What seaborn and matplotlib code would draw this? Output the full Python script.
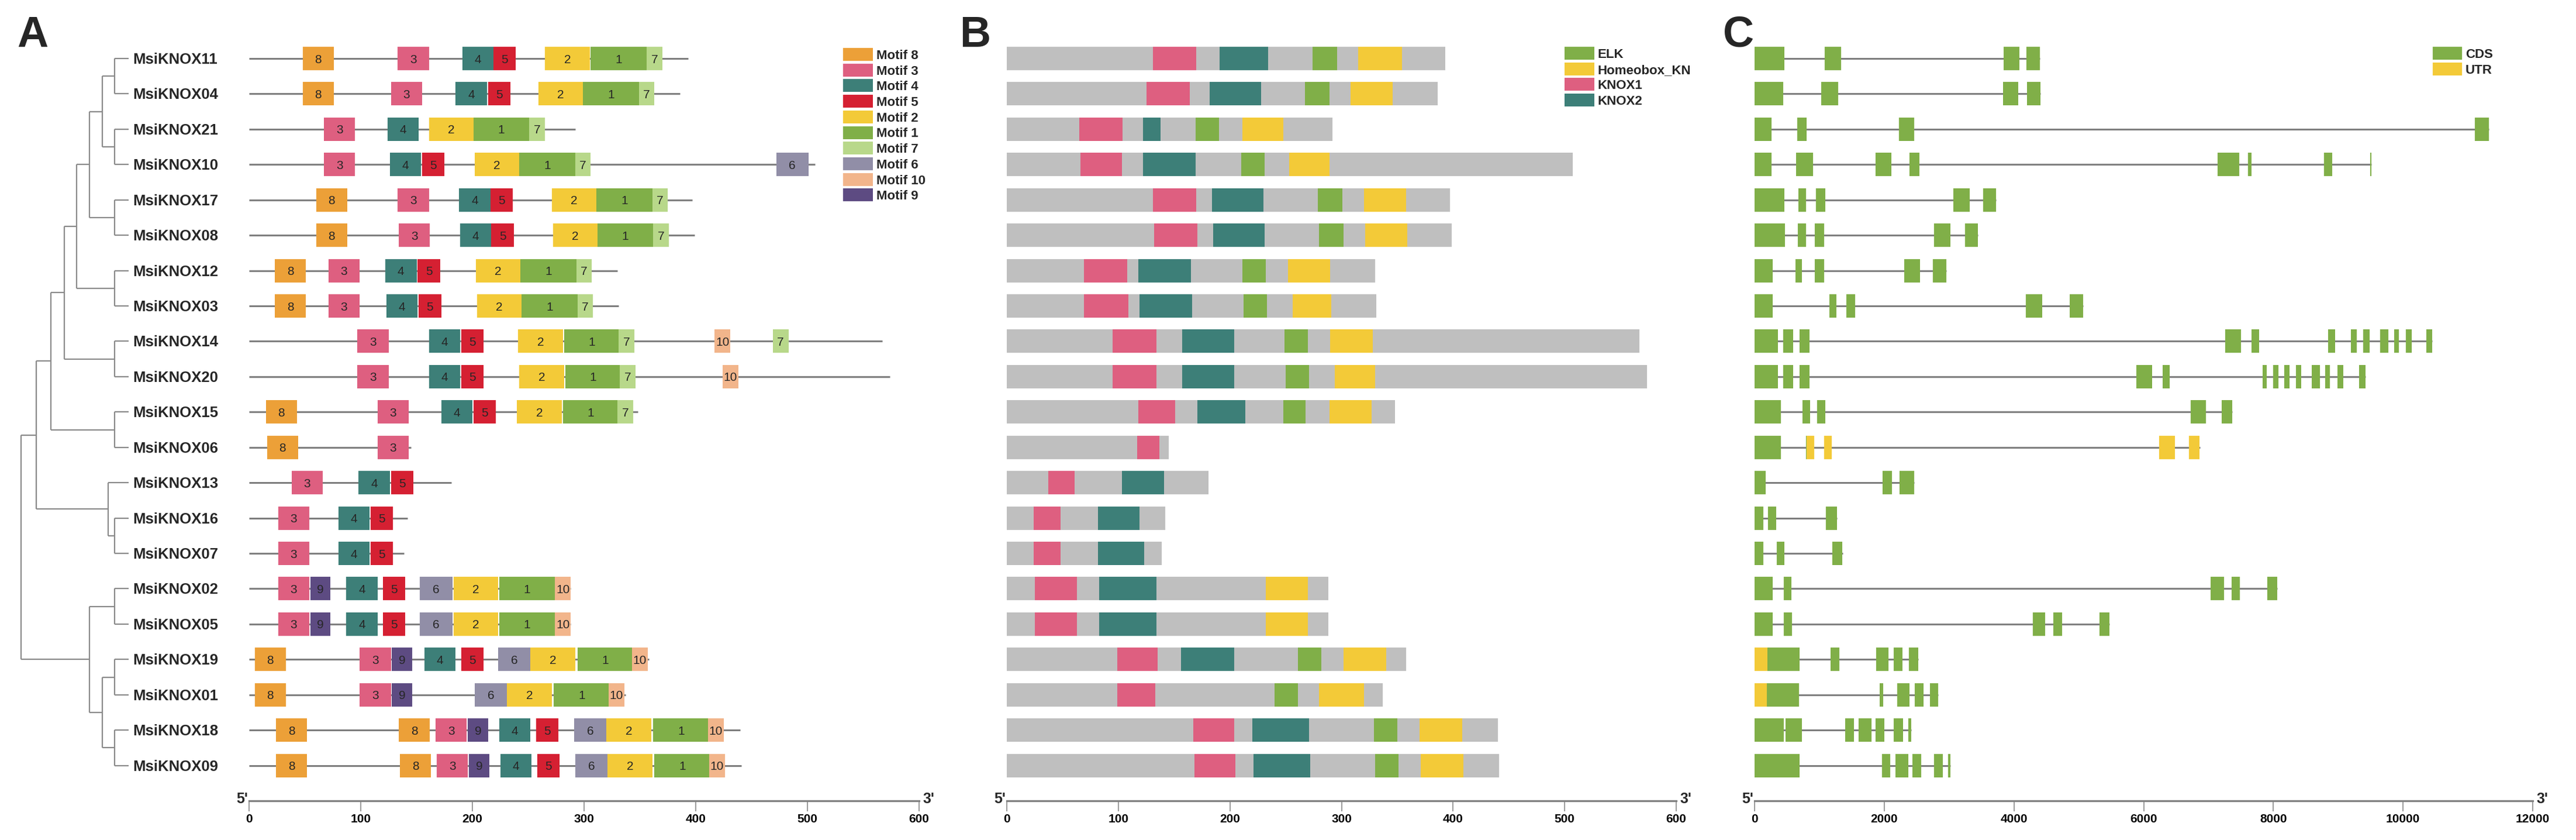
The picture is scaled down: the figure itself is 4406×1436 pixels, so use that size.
import matplotlib
matplotlib.use("Agg")
import matplotlib.pyplot as plt
from matplotlib.patches import Rectangle
import seaborn as sns

# ---------------- data ----------------
genes = ["MsiKNOX11", "MsiKNOX04", "MsiKNOX21", "MsiKNOX10", "MsiKNOX17", "MsiKNOX08",
         "MsiKNOX12", "MsiKNOX03", "MsiKNOX14", "MsiKNOX20", "MsiKNOX15", "MsiKNOX06",
         "MsiKNOX13", "MsiKNOX16", "MsiKNOX07", "MsiKNOX02", "MsiKNOX05", "MsiKNOX19",
         "MsiKNOX01", "MsiKNOX18", "MsiKNOX09"]

# protein lengths (aa)
prot_len = [393, 386, 292, 507, 397, 399, 330, 331, 567, 574, 348, 145, 181, 142, 139,
            288, 288, 358, 337, 440, 441]

# phylogeny: (node depth, [children]); ints are row indices of genes
tree = (0.0, [
    (0.141, [
        (0.277, [
            (0.402, [
                (0.516, [
                    (0.636, [
                        (0.755, [(0.870, [0, 1]), (0.870, [2, 3])]),
                        (0.870, [4, 5]),
                    ]),
                    (0.870, [6, 7]),
                ]),
                (0.870, [8, 9]),
            ]),
            (0.870, [10, 11]),
        ]),
        (0.810, [12, (0.870, [13, 14])]),
    ]),
    (0.636, [(0.870, [15, 16]), (0.755, [(0.870, [17, 18]), (0.870, [19, 20])])]),
])

# MEME motifs
motif_order = [8, 3, 4, 5, 2, 1, 7, 6, 10, 9]
motif_width = {1: 50, 2: 40, 3: 28, 4: 28, 5: 20, 6: 29, 7: 14, 8: 28, 9: 18, 10: 14}
motif_ids = [
    [8, 3, 4, 5, 2, 1, 7],
    [8, 3, 4, 5, 2, 1, 7],
    [3, 4, 2, 1, 7],
    [3, 4, 5, 2, 1, 7, 6],
    [8, 3, 4, 5, 2, 1, 7],
    [8, 3, 4, 5, 2, 1, 7],
    [8, 3, 4, 5, 2, 1, 7],
    [8, 3, 4, 5, 2, 1, 7],
    [3, 4, 5, 2, 1, 7, 10, 7],
    [3, 4, 5, 2, 1, 7, 10],
    [8, 3, 4, 5, 2, 1, 7],
    [8, 3],
    [3, 4, 5],
    [3, 4, 5],
    [3, 4, 5],
    [3, 9, 4, 5, 6, 2, 1, 10],
    [3, 9, 4, 5, 6, 2, 1, 10],
    [8, 3, 9, 4, 5, 6, 2, 1, 10],
    [8, 3, 9, 6, 2, 1, 10],
    [8, 8, 3, 9, 4, 5, 6, 2, 1, 10],
    [8, 8, 3, 9, 4, 5, 6, 2, 1, 10],
]
motif_starts = [
    [48, 133, 191, 219, 265, 306, 356],
    [48, 127, 185, 214, 259, 299, 349],
    [67, 124, 161, 201, 251],
    [67, 126, 155, 202, 242, 292, 472],
    [60, 133, 188, 216, 271, 311, 361],
    [60, 134, 189, 217, 272, 312, 362],
    [23, 71, 122, 151, 203, 243, 293],
    [23, 71, 123, 152, 204, 244, 294],
    [97, 161, 190, 241, 282, 331, 417, 469],
    [97, 161, 190, 242, 283, 332, 424],
    [15, 115, 172, 201, 240, 281, 330],
    [16, 115],
    [38, 98, 127],
    [26, 80, 109],
    [26, 80, 109],
    [26, 55, 87, 120, 153, 183, 224, 274],
    [26, 55, 87, 120, 153, 183, 224, 274],
    [5, 99, 128, 157, 190, 223, 252, 294, 343],
    [5, 99, 128, 202, 231, 273, 322],
    [24, 134, 167, 196, 224, 257, 291, 320, 362, 411],
    [24, 135, 168, 197, 225, 258, 292, 321, 363, 412],
]

# conserved domains (start, end) in aa; None = absent
dom_names = ["ELK", "Homeobox_KN", "KNOX1", "KNOX2"]
elk = [(274, 296), (267, 289), (169, 190), (210, 231), (279, 301), (280, 302), (211, 232),
       (212, 233), (249, 270), (250, 271), (248, 268), None, None, None, None, None, None,
       (261, 282), (240, 261), (329, 350), (330, 351)]
homeobox_kn = [(315, 354), (308, 346), (211, 248), (253, 289), (320, 358), (321, 359),
               (252, 290), (256, 291), (290, 328), (294, 330), (289, 327), None, None, None,
               None, (232, 270), (232, 270), (302, 340), (280, 320), (370, 408), (371, 409)]
knox1 = [(131, 170), (125, 164), (65, 104), (66, 103), (131, 170), (132, 171), (69, 108),
         (69, 109), (95, 134), (95, 134), (118, 151), (117, 137), (37, 61), (24, 48), (24, 48),
         (25, 63), (25, 63), (99, 135), (99, 133), (167, 204), (168, 205)]
knox2 = [(191, 234), (182, 228), (122, 138), (122, 169), (184, 230), (185, 231), (118, 165),
         (119, 166), (157, 204), (157, 204), (171, 214), None, (103, 141), (82, 119), (82, 123),
         (83, 134), (83, 134), (156, 204), None, (220, 271), (221, 272)]

# gene structures (bp)
gene_len = [4397, 4405, 11323, 9514, 3727, 3442, 2956, 5067, 10452, 9422, 7362, 6868, 2462,
            1273, 1357, 8057, 5469, 2521, 2831, 2412, 3023]
cds = [
    [(0, 460), (1080, 1332), (3844, 4087), (4196, 4397)],
    [(0, 444), (1030, 1290), (3836, 4070), (4204, 4405)],
    [(0, 260), (662, 804), (2228, 2462), (11105, 11323)],
    [(0, 260), (636, 904), (1868, 2110), (2387, 2538), (7136, 7470), (7605, 7663),
     (8777, 8911), (9490, 9514)],
    [(0, 460), (678, 796), (946, 1089), (3065, 3316), (3526, 3727)],
    [(0, 469), (670, 796), (930, 1072), (2772, 3023), (3250, 3442)],
    [(0, 276), (628, 729), (930, 1072), (2312, 2554), (2747, 2956)],
    [(0, 276), (1156, 1265), (1415, 1549), (4179, 4439), (4858, 5067)],
    [(0, 360), (444, 595), (695, 846), (7261, 7504), (7663, 7780), (8844, 8953), (9196, 9288),
     (9388, 9481), (9648, 9773), (9866, 9933), (10042, 10134), (10360, 10452)],
    [(0, 360), (444, 595), (695, 846), (5888, 6130), (6290, 6399), (7831, 7898), (7998, 8074),
     (8166, 8249), (8350, 8434), (8593, 8718), (8802, 8869), (8986, 9078), (9321, 9422)],
    [(0, 402), (737, 854), (963, 1089), (6725, 6960), (7203, 7362)],
    [(0, 410), (790, 805)],
    [(0, 168), (1977, 2119), (2236, 2462)],
    [(0, 134), (209, 335), (1097, 1273)],
    [(0, 134), (343, 461), (1198, 1348)],
    [(0, 276), (452, 570), (7035, 7236), (7353, 7487), (7906, 8057)],
    [(0, 276), (452, 578), (4296, 4481), (4606, 4740), (5318, 5469)],
    [(201, 695), (1173, 1307), (1876, 2069), (2144, 2278), (2379, 2521)],
    [(193, 687), (1926, 1985), (2203, 2387), (2471, 2605), (2705, 2831)],
    [(0, 452), (477, 729), (1399, 1533), (1608, 1801), (1868, 2002), (2144, 2286), (2370, 2412)],
    [(0, 695), (1968, 2094), (2169, 2370), (2437, 2571), (2772, 2906), (2981, 3023)],
]
utr = [[], [], [], [], [], [], [], [], [], [], [],
       [(805, 921), (1072, 1189), (6239, 6482), (6700, 6859)],
       [], [], [], [], [], [(0, 201)], [(0, 193)], [], []]

ticks_aa = [0, 100, 200, 300, 400, 500, 600]
ticks_bp = [0, 2000, 4000, 6000, 8000, 10000, 12000]

# ---------------- style ----------------
motif_colors = {8: "#ECA038", 3: "#DE5F80", 4: "#3D7F78", 5: "#D52032", 2: "#F3CA38",
                1: "#80AF48", 7: "#B8D88A", 6: "#918EA7", 10: "#F2B58B", 9: "#5D4B82"}
dom_colors = {"ELK": "#80AF48", "Homeobox_KN": "#F3CA38", "KNOX1": "#DE5F80", "KNOX2": "#3D7F78"}
CDS_COLOR, UTR_COLOR = "#80AF48", "#F3CA38"
PROT_GRAY = "#BFBFBF"
LINE_GRAY = "#7F7F7F"
TREE_GRAY = "#8A8A8A"

sns.set_theme(style="white")
plt.rcParams["font.family"] = ["Liberation Sans", "DejaVu Sans"]

W, H = 4406, 1436
fig = plt.figure(figsize=(W / 100, H / 100), dpi=100)

TOP, BOT = 69.8, 1369.0
BOX_H = 0.662
N = len(genes)


def fx(px):
    return px / W


def fy(py):
    return 1 - py / H


def track_axes(x0, x1):
    ax = fig.add_axes([fx(x0), fy(BOT), (x1 - x0) / W, (BOT - TOP) / H])
    ax.set_ylim(21.0, -0.5)
    ax.set_yticks([])
    ax.patch.set_alpha(0)
    sns.despine(ax=ax, left=True, top=True, right=True)
    ax.spines["bottom"].set_color(LINE_GRAY)
    ax.spines["bottom"].set_linewidth(2.3)
    ax.tick_params(axis="x", bottom=True, direction="out", length=13, width=1.1,
                   color=LINE_GRAY, pad=3, labelsize=15)
    ax.grid(False)
    return ax


def style_ticklabels(ax):
    for t in ax.get_xticklabels():
        t.set_fontweight("bold")
        t.set_color("black")


def end_labels(x_left_px, x_right_px):
    fig.text(fx(x_left_px - 2), fy(1373), "5'", ha="right", va="baseline",
             fontsize=18, fontweight="bold")
    fig.text(fx(x_right_px + 6), fy(1373), "3'", ha="left", va="baseline",
             fontsize=18, fontweight="bold")


# ---------------- tree ----------------
axt = fig.add_axes([fx(36), fy(BOT), (220 - 36) / W, (BOT - TOP) / H])
axt.set_xlim(0, 1)
axt.set_ylim(21.0, -0.5)
axt.axis("off")


def draw_node(node):
    if isinstance(node, int):
        return 1.0, float(node)
    depth, children = node
    pts = [draw_node(c) for c in children]
    ys = [p[1] for p in pts]
    for cx, cy in pts:
        axt.plot([depth, cx], [cy, cy], color=TREE_GRAY, lw=1.6, solid_capstyle="butt",
                 clip_on=False)
    axt.plot([depth, depth], [min(ys), max(ys)], color=TREE_GRAY, lw=1.6,
             solid_capstyle="butt", clip_on=False)
    return depth, (min(ys) + max(ys)) / 2


draw_node(tree)
for i, g in enumerate(genes):
    axt.text(1.0 + 7 / 184, i + 9 / 60.4, g, ha="left", va="baseline", fontsize=18.5,
             fontweight="bold", clip_on=False)

# ---------------- panel A: motifs ----------------
axa = track_axes(426, 1572)
axa.set_xlim(0, 600)
axa.set_xticks(ticks_aa)
for i in range(N):
    axa.hlines(i, 0, prot_len[i], color=LINE_GRAY, lw=2.2, zorder=1)
    for m, s in zip(motif_ids[i], motif_starts[i]):
        w = motif_width[m]
        axa.barh(i, w, left=s, height=BOX_H, color=motif_colors[m], edgecolor="none",
                 zorder=2)
        axa.text(s + w / 2, i + 7.5 / 60.4, str(m), ha="center", va="baseline",
                 fontsize=15, zorder=3)
style_ticklabels(axa)
end_labels(426, 1572)

# motif legend
for k, m in enumerate(motif_order):
    yc = 93 + 26.7 * k
    fig.add_artist(Rectangle((fx(1442), fy(yc + 11)), 51 / W, 22 / H,
                             transform=fig.transFigure, color=motif_colors[m], lw=0))
    fig.text(fx(1499), fy(yc + 8), f"Motif {m}", ha="left", va="baseline",
             fontsize=16, fontweight="bold")

# ---------------- panel B: domains ----------------
axb = track_axes(1722, 2867)
axb.set_xlim(0, 600)
axb.set_xticks(ticks_aa)
dom_lists = {"ELK": elk, "Homeobox_KN": homeobox_kn, "KNOX1": knox1, "KNOX2": knox2}
for i in range(N):
    axb.barh(i, prot_len[i], left=0, height=BOX_H, color=PROT_GRAY, edgecolor="none", zorder=1)
    for d in dom_names:
        seg = dom_lists[d][i]
        if seg is None:
            continue
        axb.barh(i, seg[1] - seg[0], left=seg[0], height=BOX_H, color=dom_colors[d],
                 edgecolor="none", zorder=2)
style_ticklabels(axb)
end_labels(1722, 2867)

for k, d in enumerate(dom_names):
    yc = 91 + 26.7 * k
    fig.add_artist(Rectangle((fx(2676), fy(yc + 11)), 51 / W, 22 / H,
                             transform=fig.transFigure, color=dom_colors[d], lw=0))
    fig.text(fx(2732), fy(yc + 8), d, ha="left", va="baseline", fontsize=16,
             fontweight="bold")

# ---------------- panel C: gene structure ----------------
axc = track_axes(3001, 4332)
axc.set_xlim(0, 12000)
axc.set_xticks(ticks_bp)
for i in range(N):
    axc.hlines(i, 0, gene_len[i], color=LINE_GRAY, lw=2.2, zorder=1)
    for s, e in cds[i]:
        axc.barh(i, e - s, left=s, height=BOX_H, color=CDS_COLOR, edgecolor="none", zorder=2)
    for s, e in utr[i]:
        axc.barh(i, e - s, left=s, height=BOX_H, color=UTR_COLOR, edgecolor="none", zorder=2)
style_ticklabels(axc)
end_labels(3001, 4332)

for k, (lab, col) in enumerate([("CDS", CDS_COLOR), ("UTR", UTR_COLOR)]):
    yc = 91 + 26.7 * k
    fig.add_artist(Rectangle((fx(4161), fy(yc + 11)), 50 / W, 22 / H,
                             transform=fig.transFigure, color=col, lw=0))
    fig.text(fx(4217), fy(yc + 8), lab, ha="left", va="baseline", fontsize=16,
             fontweight="bold")

# ---------------- panel letters ----------------
for lab, xpx in [("A", 29), ("B", 1641), ("C", 2947)]:
    fig.text(fx(xpx), fy(80), lab, ha="left", va="baseline", fontsize=53, fontweight="bold")

fig.savefig("out.png", dpi=100)
